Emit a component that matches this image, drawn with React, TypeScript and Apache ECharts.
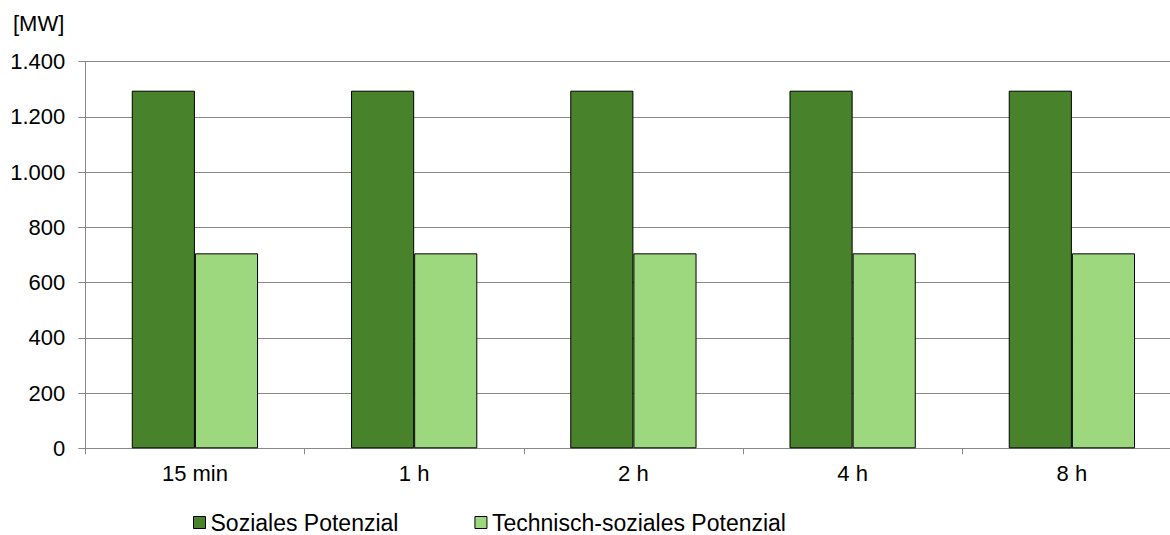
import React, { useEffect, useRef } from "react";
import * as echarts from "echarts";

// Zeitfenster der Lastverschiebung
const categories = ["15 min", "1 h", "2 h", "4 h", "8 h"];
// Potenziale in MW
const sozialesPotenzial = [1295, 1295, 1295, 1295, 1295];
const technischSozialesPotenzial = [706, 706, 706, 706, 706];
const seriesNames = ["Soziales Potenzial", "Technisch-soziales Potenzial"];
const unitLabel = "[MW]";

const FONT = "'Liberation Sans', Arial, sans-serif";

export default function App() {
  const ref = useRef<HTMLDivElement>(null);

  useEffect(() => {
    if (!ref.current) return;
    const chart = echarts.init(ref.current, null, { renderer: "svg" });
    const fmt = (v: number) =>
      v.toLocaleString("de-DE", { maximumFractionDigits: 0 });
    chart.setOption({
      animation: false,
      backgroundColor: "#ffffff",
      textStyle: { fontFamily: FONT },
      // the plot runs slightly past the visible right edge
      grid: { left: 85.3, right: 0.5, top: 61.7, bottom: 86.7 },
      graphic: [
        {
          type: "text",
          left: 13,
          top: 12,
          style: { text: unitLabel, fontSize: 22, fontFamily: FONT, fill: "#000" },
        },
      ],
      legend: {
        left: 193,
        top: 511,
        padding: 0,
        itemWidth: 12,
        itemHeight: 12,
        itemGap: 76,
        icon: "rect",
        textStyle: {
          fontSize: 23,
          lineHeight: 18,
          color: "#000",
          fontFamily: FONT,
        },
        data: seriesNames.map((n) => ({
          name: n,
          itemStyle: { borderColor: "#000", borderWidth: 1 },
        })),
      },
      xAxis: {
        type: "category",
        data: categories,
        axisLine: { lineStyle: { color: "#888", width: 1 } },
        axisTick: { show: true, length: 6, lineStyle: { color: "#888" } },
        axisLabel: { fontSize: 22, color: "#000", margin: 14, fontFamily: FONT },
      },
      yAxis: {
        type: "value",
        min: 0,
        max: 1400,
        interval: 200,
        axisLine: { show: true, lineStyle: { color: "#888", width: 1 } },
        axisTick: { show: true, length: 7, lineStyle: { color: "#888" } },
        splitLine: { lineStyle: { color: "#888", width: 1 } },
        axisLabel: {
          fontSize: 22,
          color: "#000",
          margin: 20,
          fontFamily: FONT,
          formatter: (v: number) => fmt(v),
        },
      },
      series: [
        {
          name: seriesNames[0],
          type: "bar",
          data: sozialesPotenzial,
          barWidth: "28.8%",
          barGap: "0%",
          itemStyle: { color: "#48822a", borderColor: "#000", borderWidth: 1 },
        },
        {
          name: seriesNames[1],
          type: "bar",
          data: technischSozialesPotenzial,
          barWidth: "28.8%",
          barGap: "0%",
          itemStyle: { color: "#9dd87e", borderColor: "#000", borderWidth: 1 },
        },
      ],
    });
    return () => chart.dispose();
  }, []);

  return (
    <div
      style={{
        position: "fixed",
        left: 0,
        top: 0,
        width: 1170,
        height: 535,
        overflow: "hidden",
        background: "#fff",
      }}
    >
      <div ref={ref} style={{ width: 1182, height: 535 }} />
    </div>
  );
}
